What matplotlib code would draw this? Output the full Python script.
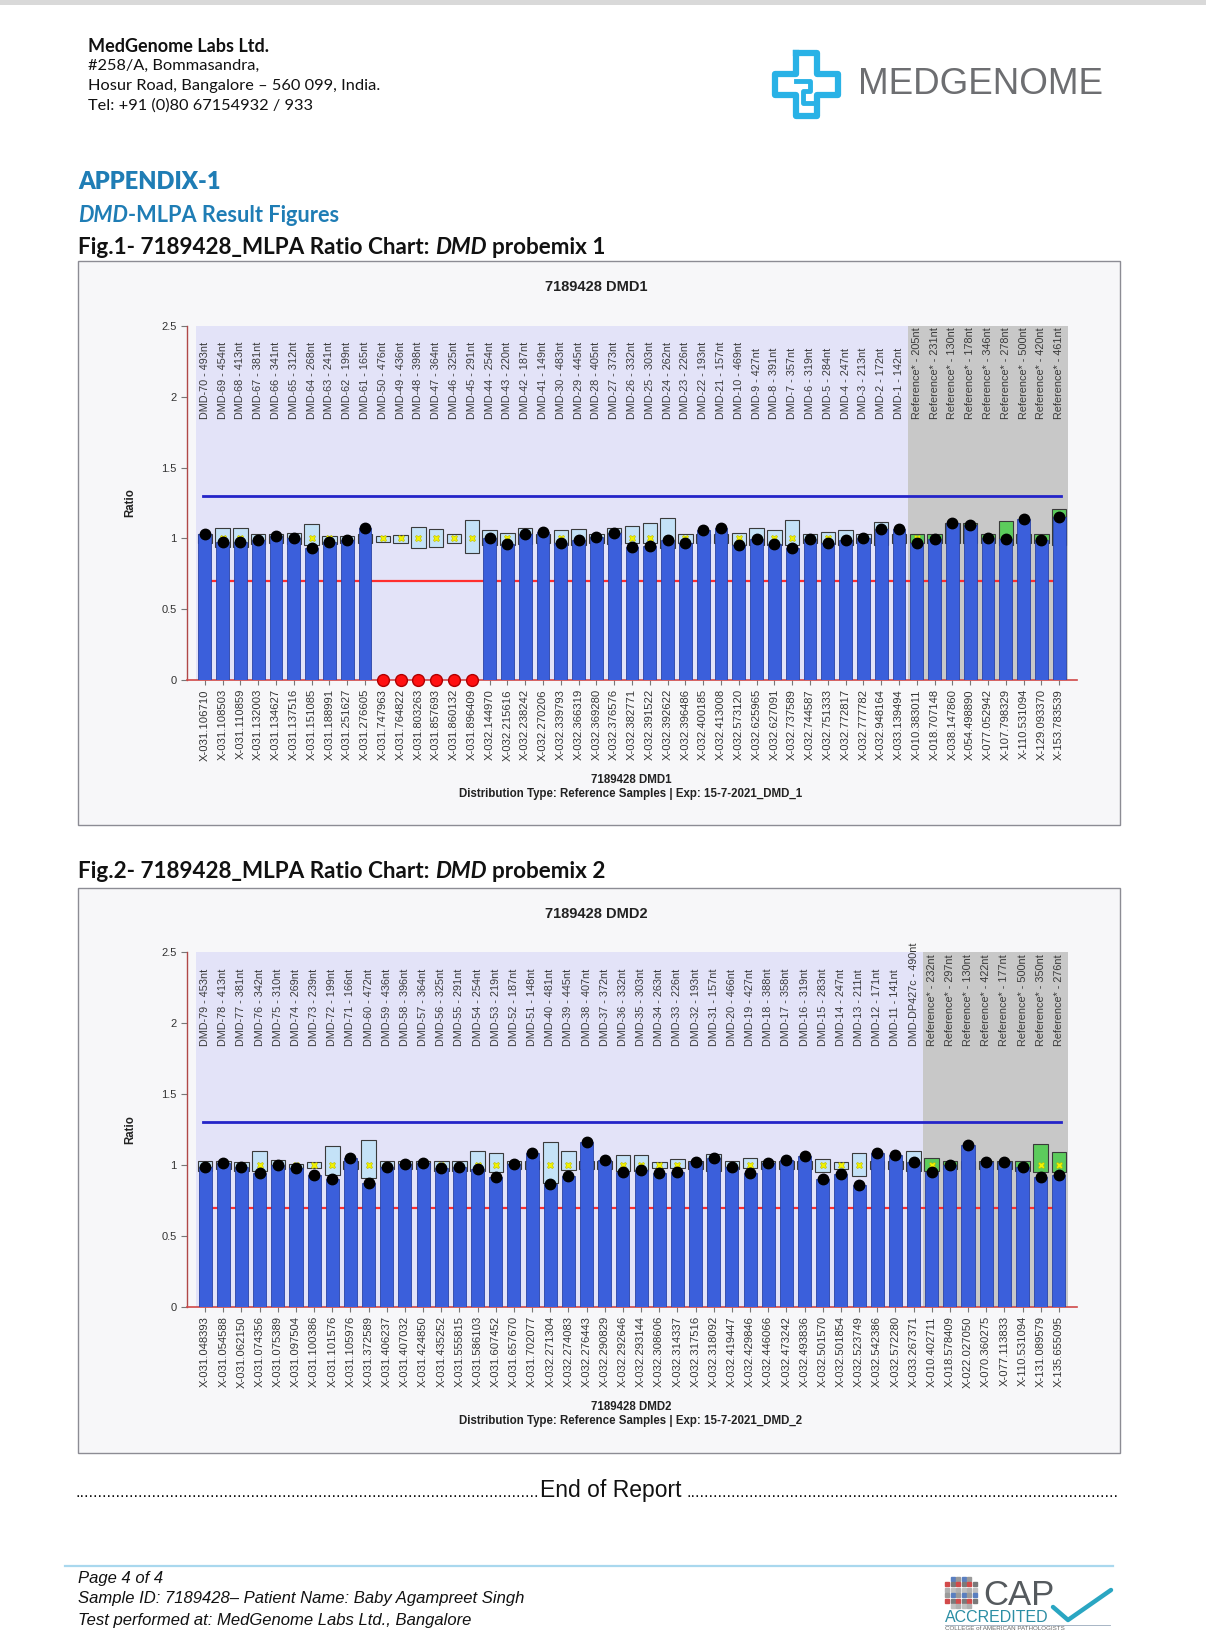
import matplotlib
matplotlib.use("Agg")
import matplotlib.pyplot as plt
from matplotlib.patches import Rectangle
from matplotlib.lines import Line2D
import numpy as np

W, H = 1206, 1632

# ---------------- data: chart 1 (DMD probemix 1) ----------------
c1_probes = ["DMD-70 - 493nt", "DMD-69 - 454nt", "DMD-68 - 413nt", "DMD-67 - 381nt", "DMD-66 - 341nt",
             "DMD-65 - 312nt", "DMD-64 - 268nt", "DMD-63 - 241nt", "DMD-62 - 199nt", "DMD-61 - 165nt",
             "DMD-50 - 476nt", "DMD-49 - 436nt", "DMD-48 - 398nt", "DMD-47 - 364nt", "DMD-46 - 325nt",
             "DMD-45 - 291nt", "DMD-44 - 254nt", "DMD-43 - 220nt", "DMD-42 - 187nt", "DMD-41 - 149nt",
             "DMD-30 - 483nt", "DMD-29 - 445nt", "DMD-28 - 405nt", "DMD-27 - 373nt", "DMD-26 - 332nt",
             "DMD-25 - 303nt", "DMD-24 - 262nt", "DMD-23 - 226nt", "DMD-22 - 193nt", "DMD-21 - 157nt",
             "DMD-10 - 469nt", "DMD-9 - 427nt", "DMD-8 - 391nt", "DMD-7 - 357nt", "DMD-6 - 319nt",
             "DMD-5 - 284nt", "DMD-4 - 247nt", "DMD-3 - 213nt", "DMD-2 - 172nt", "DMD-1 - 142nt",
             "Reference* - 205nt", "Reference* - 231nt", "Reference* - 130nt", "Reference* - 178nt",
             "Reference* - 346nt", "Reference* - 278nt", "Reference* - 500nt", "Reference* - 420nt",
             "Reference* - 461nt"]
c1_positions = ["X-031.106710", "X-031.108503", "X-031.110859", "X-031.132003", "X-031.134627",
                "X-031.137516", "X-031.151085", "X-031.188991", "X-031.251627", "X-031.276605",
                "X-031.747963", "X-031.764822", "X-031.803263", "X-031.857693", "X-031.860132",
                "X-031.896409", "X-032.144970", "X-032.215616", "X-032.238242", "X-032.270206",
                "X-032.339793", "X-032.366319", "X-032.369280", "X-032.376576", "X-032.382771",
                "X-032.391522", "X-032.392622", "X-032.396486", "X-032.400185", "X-032.413008",
                "X-032.573120", "X-032.625965", "X-032.627091", "X-032.737589", "X-032.744587",
                "X-032.751333", "X-032.772817", "X-032.777782", "X-032.948164", "X-033.139494",
                "X-010.383011", "X-018.707148", "X-038.147860", "X-054.498890", "X-077.052942",
                "X-107.798329", "X-110.531094", "X-129.093370", "X-153.783539"]
c1_ratio = [1.03, 0.975, 0.975, 0.99, 1.015, 1.005, 0.935, 0.975, 0.99, 1.07,
            0.0, 0.0, 0.0, 0.0, 0.0, 0.0, 1.0, 0.958, 1.03, 1.047,
            0.965, 0.988, 1.012, 1.035, 0.936, 0.946, 0.988, 0.965, 1.059, 1.07,
            0.953, 0.993, 0.96, 0.93, 0.993, 0.97, 0.988, 1.0, 1.063, 1.063,
            0.97, 0.993, 1.106, 1.094, 1.0, 0.993, 1.14, 0.988, 1.153]
c1_box_lo = [0.97, 0.94, 0.94, 0.96, 0.97, 0.96, 0.95, 0.96, 0.97, 0.97,
             0.976, 0.969, 0.929, 0.936, 0.965, 0.894, 0.95, 0.95, 0.96, 0.97,
             0.95, 0.95, 0.97, 0.96, 0.965, 0.965, 0.93, 0.97, 0.97, 0.97,
             0.95, 0.95, 0.95, 0.953, 0.97, 0.96, 0.95, 0.97, 0.95, 0.97,
             0.97, 0.97, 0.97, 0.97, 0.97, 0.95, 0.97, 0.97, 0.95]
c1_box_hi = [1.03, 1.07, 1.07, 1.03, 1.03, 1.04, 1.10, 1.02, 1.02, 1.03,
             1.016, 1.023, 1.078, 1.066, 1.03, 1.13, 1.06, 1.04, 1.07, 1.03,
             1.06, 1.066, 1.03, 1.07, 1.087, 1.106, 1.146, 1.03, 1.03, 1.03,
             1.04, 1.07, 1.06, 1.13, 1.03, 1.042, 1.06, 1.03, 1.118, 1.03,
             1.03, 1.03, 1.11, 1.11, 1.03, 1.125, 1.03, 1.03, 1.205]

# ---------------- data: chart 2 (DMD probemix 2) ----------------
c2_probes = ["DMD-79 - 453nt", "DMD-78 - 413nt", "DMD-77 - 381nt", "DMD-76 - 342nt", "DMD-75 - 310nt",
             "DMD-74 - 269nt", "DMD-73 - 239nt", "DMD-72 - 199nt", "DMD-71 - 166nt", "DMD-60 - 472nt",
             "DMD-59 - 436nt", "DMD-58 - 396nt", "DMD-57 - 364nt", "DMD-56 - 325nt", "DMD-55 - 291nt",
             "DMD-54 - 254nt", "DMD-53 - 219nt", "DMD-52 - 187nt", "DMD-51 - 148nt", "DMD-40 - 481nt",
             "DMD-39 - 445nt", "DMD-38 - 407nt", "DMD-37 - 372nt", "DMD-36 - 332nt", "DMD-35 - 303nt",
             "DMD-34 - 263nt", "DMD-33 - 226nt", "DMD-32 - 193nt", "DMD-31 - 157nt", "DMD-20 - 466nt",
             "DMD-19 - 427nt", "DMD-18 - 388nt", "DMD-17 - 358nt", "DMD-16 - 319nt", "DMD-15 - 283nt",
             "DMD-14 - 247nt", "DMD-13 - 211nt", "DMD-12 - 171nt", "DMD-11 - 141nt", "DMD-DP427c - 490nt",
             "Reference* - 232nt", "Reference* - 297nt", "Reference* - 130nt", "Reference* - 422nt",
             "Reference* - 177nt", "Reference* - 500nt", "Reference* - 350nt", "Reference* - 276nt"]
c2_positions = ["X-031.048393", "X-031.054588", "X-031.062150", "X-031.074356", "X-031.075389",
                "X-031.097504", "X-031.100386", "X-031.101576", "X-031.105976", "X-031.372589",
                "X-031.406237", "X-031.407032", "X-031.424850", "X-031.435252", "X-031.555815",
                "X-031.586103", "X-031.607452", "X-031.657670", "X-031.702077", "X-032.271304",
                "X-032.274083", "X-032.276443", "X-032.290829", "X-032.292646", "X-032.293144",
                "X-032.308606", "X-032.314337", "X-032.317516", "X-032.318092", "X-032.419447",
                "X-032.429846", "X-032.446066", "X-032.473242", "X-032.493836", "X-032.501570",
                "X-032.501854", "X-032.523749", "X-032.542386", "X-032.572280", "X-033.267371",
                "X-010.402711", "X-018.578409", "X-022.027050", "X-070.360275", "X-077.113833",
                "X-110.531094", "X-131.089579", "X-135.655095"]
c2_ratio = [0.984, 1.012, 0.984, 0.946, 1.0, 0.976, 0.929, 0.90, 1.047, 0.87,
            0.988, 1.007, 1.016, 0.976, 0.988, 0.969, 0.913, 1.005, 1.082, 0.866,
            0.922, 1.16, 1.035, 0.953, 0.965, 0.941, 0.953, 1.019, 1.047, 0.984,
            0.946, 1.012, 1.035, 1.064, 0.899, 0.934, 0.859, 1.087, 1.07, 1.024,
            0.953, 1.0, 1.141, 1.024, 1.024, 0.984, 0.918, 0.929]
c2_box_lo = [0.96, 0.97, 0.96, 0.96, 0.97, 0.97, 0.976, 0.93, 0.97, 0.906,
             0.97, 0.97, 0.97, 0.96, 0.96, 0.96, 0.953, 0.97, 0.97, 0.875,
             0.965, 0.97, 0.97, 0.96, 0.96, 0.976, 0.976, 0.97, 0.96, 0.97,
             0.976, 0.97, 0.97, 0.97, 0.953, 0.969, 0.925, 0.97, 0.97, 0.96,
             0.96, 0.97, 0.97, 0.97, 0.97, 0.96, 0.953, 0.953]
c2_box_hi = [1.03, 1.03, 1.024, 1.10, 1.035, 1.01, 1.024, 1.134, 1.03, 1.176,
             1.03, 1.03, 1.03, 1.03, 1.03, 1.10, 1.087, 1.03, 1.03, 1.165,
             1.10, 1.03, 1.03, 1.07, 1.07, 1.024, 1.04, 1.03, 1.08, 1.03,
             1.05, 1.03, 1.03, 1.03, 1.04, 1.024, 1.082, 1.03, 1.03, 1.10,
             1.047, 1.03, 1.03, 1.03, 1.03, 1.03, 1.146, 1.09]

UPPER_LIMIT = 1.3
LOWER_LIMIT = 0.7
REF_MEDIAN = 1.0
y_ticks = [0, 0.5, 1, 1.5, 2, 2.5]
y_tick_labels = ["0", "0.5", "1", "1.5", "2", "2.5"]

# ---------------- styles ----------------
LAVENDER = "#e3e3f8"
GREY = "#c8c8c8"
BAR = "#3b5fdb"
BAR_EDGE = "#2a43a6"
BOX = "#c4e2f7"
BOX_REF = "#5ccc5c"
AXIS_RED = "#b04848"
FRAME_BG = "#f7f7f9"
HEAD_BLUE = "#1f7db5"
ARIAL = ["Liberation Sans", "DejaVu Sans"]
CALIBRI = ["Lato", "DejaVu Sans"]

fig = plt.figure(figsize=(W / 100, H / 100), dpi=100)
fig.patch.set_facecolor("white")
renderer = fig.canvas.get_renderer()


def fx(x):
    return x / W


def fy(y):
    return 1 - y / H


def rich(x, y, parts, size, color, family):
    cx = x
    sp = size * 100 / 72 * 0.25
    for txt, style, gap in parts:
        cx += gap * sp
        t = fig.text(fx(cx), fy(y), txt, fontsize=size, color=color, fontweight="bold",
                     fontstyle=style, family=family, ha="left", va="center")
        cx += t.get_window_extent(renderer=renderer).width


# top grey strip
fig.add_artist(Rectangle((0, fy(5)), 1, 5 / H, transform=fig.transFigure,
                         facecolor="#d9d9d9", edgecolor="none", zorder=-10))

# ---------------- header ----------------
fig.text(fx(88), fy(46), "MedGenome Labs Ltd.", fontsize=13, fontweight="bold", family=CALIBRI,
         va="center", ha="left", color="#111")
for yy, line in [(66, "#258/A, Bommasandra,"), (86, "Hosur Road, Bangalore \u2013 560 099, India."),
                 (106, "Tel: +91 (0)80 67154932 / 933")]:
    fig.text(fx(88), fy(yy), line, fontsize=11.8, family=CALIBRI, va="center", ha="left", color="#111")

# logo icon (stylised cross)
cx0, cy0, s = 775, 53, 63
cross = [(0.33, 0), (0.67, 0), (0.67, 0.33), (1, 0.33), (1, 0.67), (0.67, 0.67), (0.67, 1),
         (0.33, 1), (0.33, 0.67), (0, 0.67), (0, 0.33), (0.33, 0.33), (0.33, 0)]
fig.add_artist(Line2D([fx(cx0 + p[0] * s) for p in cross], [fy(cy0 + p[1] * s) for p in cross],
                      transform=fig.transFigure, color="#29b2e6", lw=4.5, solid_joinstyle="round"))
inner = [(0.33, 0.45), (0.55, 0.45), (0.55, 0.6), (0.45, 0.6), (0.45, 0.8), (0.67, 0.8)]
fig.add_artist(Line2D([fx(cx0 + p[0] * s) for p in inner], [fy(cy0 + p[1] * s) for p in inner],
                      transform=fig.transFigure, color="#29b2e6", lw=3.5))
fig.text(fx(858), fy(84), "MEDGENOME", fontsize=26.5, family=ARIAL, color="#6d6e71",
         va="center", ha="left")

# ---------------- headings ----------------
fig.text(fx(78), fy(182), "APPENDIX-1", fontsize=17, fontweight="heavy", family=CALIBRI,
         color=HEAD_BLUE, va="center", ha="left")
rich(78, 215, [("DMD", "italic", 0), ("-MLPA Result Figures", "normal", 0)], 15.7, HEAD_BLUE, CALIBRI)
rich(78, 247, [("Fig.1- 7189428_MLPA Ratio Chart:", "normal", 0), ("DMD", "italic", 1),
               ("probemix 1", "normal", 1)], 16.2, "#111", CALIBRI)
rich(78, 872, [("Fig.2- 7189428_MLPA Ratio Chart:", "normal", 0), ("DMD", "italic", 1),
               ("probemix 2", "normal", 1)], 16.2, "#111", CALIBRI)


# ---------------- charts ----------------
def draw_chart(frame, ax_rect, title, title_y, xlab_y, probes, positions, ratio, lo, hi, n_ref, exp):
    x0, y0, x1, y1 = frame
    fig.add_artist(Rectangle((fx(x0), fy(y1)), (x1 - x0) / W, (y1 - y0) / H, transform=fig.transFigure,
                             facecolor=FRAME_BG, edgecolor="#8c8c94", lw=1.0, zorder=-5))
    fig.text(fx((x0 + x1) / 2 - 3), fy(title_y), title, fontsize=10.5, fontweight="bold", family=ARIAL,
             ha="center", va="center", color="#222")
    fig.text(fx(631), fy(xlab_y), title, fontsize=8.3, fontweight="bold", family=ARIAL,
             ha="center", va="center", color="#222")
    fig.text(fx(631), fy(xlab_y + 14), "Distribution Type: Reference Samples | Exp: " + exp,
             fontsize=8.3, fontweight="bold", family=ARIAL, ha="center", va="center", color="#222")
    fig.text(fx(130), fy((ax_rect[1] + ax_rect[3]) / 2), "Ratio", rotation=90, fontsize=8.3,
             fontweight="bold", family=ARIAL, ha="center", va="center", color="#222")

    l, t, r, b = ax_rect
    ax = fig.add_axes([fx(l), fy(b), (r - l) / W, (b - t) / H])
    ax.set_zorder(2)
    ax.patch.set_visible(False)
    n = len(probes)
    x = np.arange(n)
    ratio = np.array(ratio)
    lo = np.array(lo)
    hi = np.array(hi)
    ax.set_xlim(-1, n)
    ax.set_ylim(0, 2.5)
    n_dmd = n - n_ref
    ax.add_patch(Rectangle((-0.5, 0), n_dmd, 2.5, facecolor=LAVENDER, edgecolor="none", zorder=0))
    ax.add_patch(Rectangle((n_dmd - 0.5, 0), n_ref, 2.5, facecolor=GREY, edgecolor="none", zorder=0))

    ax.plot([-0.1, n - 0.9], [LOWER_LIMIT, LOWER_LIMIT], color="#ff2e2e", lw=1.6, zorder=1)
    ax.plot([-0.1, n - 0.9], [UPPER_LIMIT, UPPER_LIMIT], color="#2424c8", lw=2.0, zorder=4)

    for i in range(n):
        fc = BOX_REF if i >= n_dmd else BOX
        ax.add_patch(Rectangle((i - 0.4, lo[i]), 0.8, hi[i] - lo[i], facecolor=fc,
                               edgecolor="#3a3a3a", lw=0.8, zorder=2))
    ax.plot(x, np.full(n, REF_MEDIAN), linestyle="none", marker="X", ms=4.5, color="#f2f200",
            mec="#b8b800", mew=0.4, zorder=2.5)

    ok = ratio > 0
    ax.bar(x[ok], ratio[ok], width=0.72, color=BAR, edgecolor=BAR_EDGE, lw=0.6, zorder=3)
    ax.plot(x[ok], ratio[ok], "o", color="black", ms=7.5, zorder=5)
    ax.plot(x[~ok], ratio[~ok], "o", color="#ff1010", mec="#b00000", ms=8.5, zorder=6, clip_on=False)

    for i, lab in enumerate(probes):
        ax.text(i, 1.84, lab, rotation=90, ha="center", va="bottom", fontsize=7.8,
                color="#3a3a3a", family=ARIAL, zorder=7)

    ax.set_xticks(x)
    ax.set_xticklabels(positions, rotation=90, fontsize=8.1, color="#333", family=ARIAL)
    ax.set_yticks(y_ticks)
    ax.set_yticklabels(y_tick_labels, fontsize=8, color="#333", family=ARIAL)
    ax.tick_params(axis="x", length=3.5, pad=3, color="#777", width=0.8)
    ax.tick_params(axis="y", length=4, pad=3.5, color="#777", width=0.8)
    for sname in ["top", "right"]:
        ax.spines[sname].set_visible(False)
    ax.spines["left"].set_color(AXIS_RED)
    ax.spines["bottom"].set_color("#d04848")
    ax.spines["left"].set_linewidth(1.0)
    ax.spines["bottom"].set_linewidth(1.2)
    return ax


draw_chart((78, 261, 1120, 825), (187, 326, 1077, 680), "7189428 DMD1", 287, 780,
           c1_probes, c1_positions, c1_ratio, c1_box_lo, c1_box_hi, 9, "15-7-2021_DMD_1")
draw_chart((78, 888, 1120, 1453), (187, 952, 1077, 1307), "7189428 DMD2", 914, 1407,
           c2_probes, c2_positions, c2_ratio, c2_box_lo, c2_box_hi, 8, "15-7-2021_DMD_2")

# ---------------- end of report ----------------
fig.text(fx(539), fy(1497), "." * 103, fontsize=12, family=ARIAL, ha="right", va="baseline",
         color="#111")
fig.text(fx(540), fy(1497), "End of Report", fontsize=16.5, family=ARIAL, ha="left", va="baseline",
         color="#111")
fig.text(fx(686), fy(1497), "." * 96, fontsize=12, family=ARIAL, ha="left", va="baseline",
         color="#111")

# ---------------- footer ----------------
fig.add_artist(Line2D([fx(65), fx(1113)], [fy(1566), fy(1566)], transform=fig.transFigure,
                      color="#a9d8ee", lw=1.6))
for yy, line in [(1579, "Page 4 of 4"),
                 (1599, "Sample ID: 7189428\u2013 Patient Name: Baby Agampreet Singh"),
                 (1620, "Test performed at: MedGenome Labs Ltd., Bangalore")]:
    fig.text(fx(78), fy(yy), line, fontsize=12, fontstyle="italic", family=ARIAL,
             ha="left", va="center", color="#111")

# CAP logo
dot_cols = ["#9a9a9a", "#c0c0c0", "#d24a4a", "#5a7fc0", "#b0b0b0", "#7a7a7a"]
for r_ in range(6):
    for c_ in range(6):
        if r_ in (0, 5) and c_ in (0, 5):
            continue
        col = dot_cols[(r_ * 2 + c_ * 3) % len(dot_cols)]
        fig.add_artist(Line2D([fx(947 + c_ * 5.6)], [fy(1579 + r_ * 5.4)], transform=fig.transFigure,
                              marker="s", ms=2.8, color=col, linestyle="none"))
fig.text(fx(983), fy(1605), "CAP", fontsize=25, family=ARIAL, color="#555a5e", ha="left",
         va="baseline")
fig.text(fx(945), fy(1622), "ACCREDITED", fontsize=11.5, family=ARIAL, color="#2c8ea4",
         ha="left", va="baseline")
fig.add_artist(Line2D([fx(1053), fx(1068), fx(1111)], [fy(1607), fy(1620), fy(1590)],
                      transform=fig.transFigure, color="#2aa6c2", lw=3.2, solid_capstyle="round"))
fig.add_artist(Line2D([fx(945), fx(1110)], [fy(1625), fy(1625)], transform=fig.transFigure,
                      color="#9ab", lw=0.6))
fig.text(fx(945), fy(1628), "COLLEGE of AMERICAN PATHOLOGISTS", fontsize=4.5, family=ARIAL,
         color="#666", ha="left", va="center")

fig.savefig("out.png", dpi=100, facecolor="white")
